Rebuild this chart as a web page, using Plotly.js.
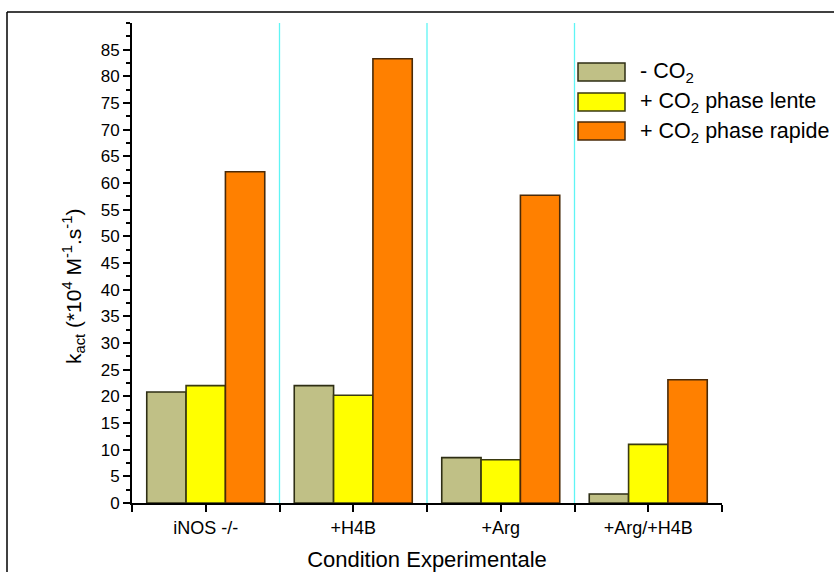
<!DOCTYPE html>
<html>
<head>
<meta charset="utf-8">
<script src="https://cdn.plot.ly/plotly-3.0.1.min.js"></script>
<style>
html,body{margin:0;padding:0;background:#fff;}
#chart{width:839px;height:572px;}
</style>
</head>
<body>
<div id="chart"></div>
<script>
// ---- data ----
const categories = ["iNOS -/-", "+H4B", "+Arg", "+Arg/+H4B"];
const seriesNames = ["- CO<sub>2</sub>", "+ CO<sub>2</sub> phase lente", "+ CO<sub>2</sub> phase rapide"];
const noCO2 = [20.8, 22.0, 8.5, 1.7];
const co2Lente = [22.0, 20.2, 8.1, 11.0];
const co2Rapide = [62.1, 83.3, 57.7, 23.1];
const yTickVals = [0,5,10,15,20,25,30,35,40,45,50,55,60,65,70,75,80,85];
const xTitle = "Condition Experimentale";
const yTitle = "k<sub>act</sub> (*10<sup>4</sup> M<sup>-1</sup>.s<sup>-1</sup>)";

// ---- styles ----
const fills = ["#C0C086", "#FFFF00", "#FF8000"];
const edges = ["#2e2e14", "#3a3a10", "#4a2a08"];
const seriesVals = [noCO2, co2Lente, co2Rapide];
const xIdx = categories.map((c, i) => i);

const W = 839, H = 572;
const L = 132, R = 722, T = 23, B = 503;
const px = v => (v - L) / (R - L);
const py = v => (B - v) / (B - T);
const FONT = "Liberation Sans, Arial, sans-serif";

const traces = seriesVals.map((vals, k) => ({
  type: "bar",
  x: xIdx,
  y: vals,
  name: seriesNames[k],
  marker: {color: fills[k], line: {color: edges[k], width: 1.6}},
  showlegend: false,
  hoverinfo: "skip"
}));

const shapes = [];
for (let i = 0; i < categories.length - 1; i++) {
  shapes.push({type: "line", xref: "x", yref: "paper", x0: i + 0.5, x1: i + 0.5, y0: 0, y1: 1,
    line: {color: "#5ff5f5", width: 1.3}, layer: "below"});
}
shapes.push({type: "line", xref: "paper", yref: "paper", x0: px(7), x1: px(834), y0: py(12), y1: py(12), line: {color: "#000", width: 1.5}});
shapes.push({type: "line", xref: "paper", yref: "paper", x0: px(7), x1: px(7), y0: py(12), y1: py(575), line: {color: "#000", width: 1.5}});

const annotations = [];
const legTop = [63, 93, 122];
seriesNames.forEach((nm, k) => {
  shapes.push({type: "rect", xref: "paper", yref: "paper",
    x0: px(578), x1: px(625), y0: py(legTop[k]), y1: py(legTop[k] + 18),
    fillcolor: fills[k], line: {color: edges[k], width: 1.5}});
  annotations.push({xref: "paper", yref: "paper", x: px(638), y: py(legTop[k] + 10),
    xanchor: "left", yanchor: "middle", showarrow: false, text: nm,
    font: {family: FONT, size: 21.5, color: "#000"}});
});
// y axis title (placed as rotated text to match reference position)
annotations.push({xref: "paper", yref: "paper", x: px(73), y: py(287), xanchor: "center", yanchor: "middle",
  textangle: -90, showarrow: false, text: yTitle, font: {family: FONT, size: 21, color: "#000"}});

const layout = {
  width: W, height: H,
  margin: {l: L, r: W - R, t: T, b: H - B, pad: 0},
  paper_bgcolor: "#fff", plot_bgcolor: "#fff",
  font: {family: FONT, color: "#000"},
  barmode: "group", bargap: 0.2, bargroupgap: 0,
  showlegend: false,
  xaxis: {
    range: [-0.5, categories.length - 0.5],
    tickmode: "array", tickvals: xIdx, ticktext: categories,
    ticks: "outside", ticklen: 7, tickwidth: 2, tickcolor: "#000",
    minor: {tick0: -0.5, dtick: 1, ticks: "outside", ticklen: 7, tickwidth: 2, tickcolor: "#000", showgrid: false},
    showline: true, linecolor: "#000", linewidth: 2,
    showgrid: false, zeroline: false,
    tickfont: {size: 18},
    title: {text: xTitle, font: {size: 22}, standoff: 17},
    automargin: false
  },
  yaxis: {
    range: [0, 90],
    tickmode: "array", tickvals: yTickVals,
    ticks: "outside", ticklen: 7, tickwidth: 2, tickcolor: "#000",
    minor: {dtick: 2.5, tick0: 0, ticks: "outside", ticklen: 4, tickwidth: 2, tickcolor: "#000", showgrid: false},
    showline: true, linecolor: "#000", linewidth: 2,
    showgrid: false, zeroline: false,
    tickfont: {size: 17},
    automargin: false
  },
  shapes: shapes,
  annotations: annotations
};

Plotly.newPlot("chart", traces, layout, {displayModeBar: false, staticPlot: true});
</script>
</body>
</html>
